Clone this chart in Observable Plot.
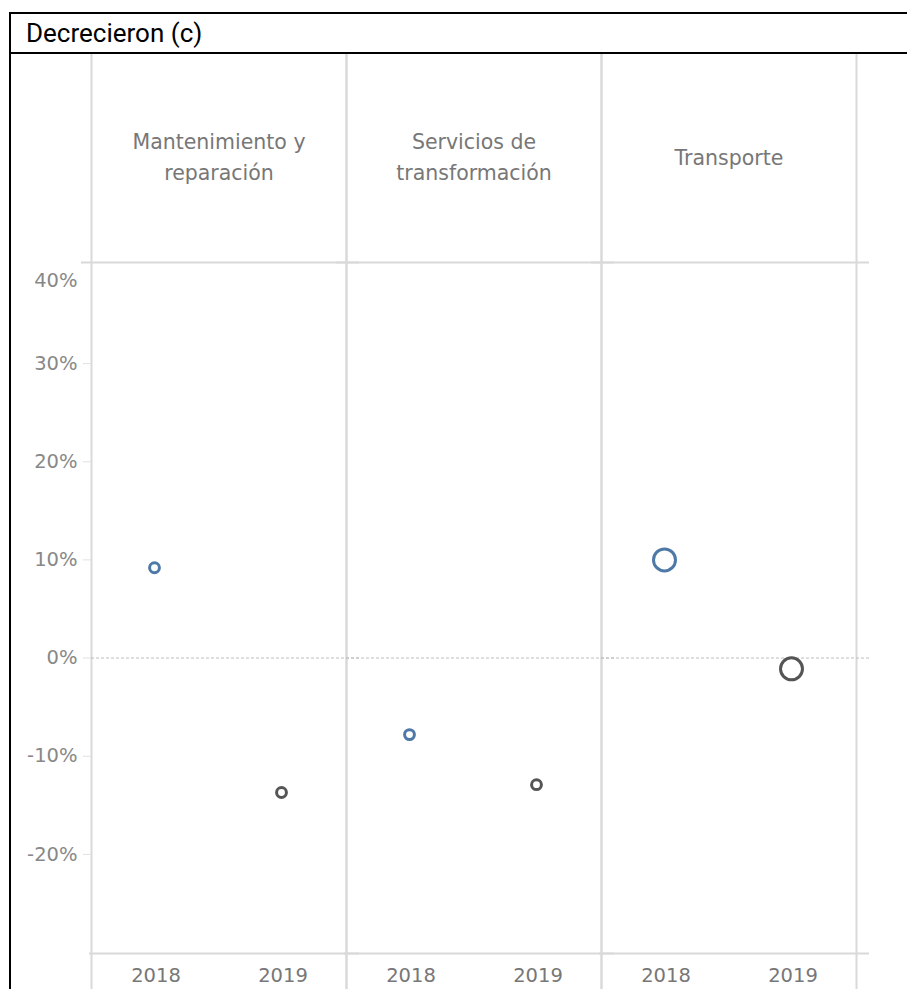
<!DOCTYPE html>
<html>
<head>
<meta charset="utf-8">
<script src="https://cdn.jsdelivr.net/npm/d3@7"></script>
<script src="https://cdn.jsdelivr.net/npm/@observablehq/plot@0.6"></script>
<style>
  html, body { margin: 0; padding: 0; background: #fff; }
  #page { position: relative; width: 907px; height: 989px; overflow: hidden; }
  #leftborder { position: absolute; left: 9px; top: 12px; width: 2px; height: 977px; background: #000; }
  #title {
    position: absolute; left: 9px; top: 12px; width: 898px; height: 38px;
    border-top: 2px solid #000; border-bottom: 2px solid #000;
    font-family: "Roboto", sans-serif; font-size: 26px; color: #000;
    line-height: 38px; box-sizing: content-box;
  }
  #title span { position: absolute; left: 17px; top: 0; }
  #chart { position: absolute; left: 0; top: 54px; }
</style>
</head>
<body>
<div id="page">
  <div id="title"><span>Decrecieron (c)</span></div>
  <div id="chart"></div>
  <div id="leftborder"></div>
</div>
<script>
// ---- data ----
const categorias = ["Mantenimiento y reparación", "Servicios de transformación", "Transporte"];
const etiquetas = ["Mantenimiento y\nreparación", "Servicios de\ntransformación", "Transporte"];
const anios = ["2018", "2019"];
const valores2018 = [0.092, -0.078, 0.100];
const valores2019 = [-0.137, -0.129, -0.011];
const peso = [1, 1, 5];
const ticksY = [-0.2, -0.1, 0, 0.1, 0.2, 0.3];
const tickTop = [0.4];
const dominioY = [-0.301, 0.403];
const colores = ["#4e79a7", "#555555"];

const datos = [];
categorias.forEach((c, i) => {
  datos.push({categoria: c, anio: anios[0], valor: valores2018[i], peso: peso[i]});
  datos.push({categoria: c, anio: anios[1], valor: valores2019[i], peso: peso[i]});
});

const fmt = d => Math.round(d * 100) + "%";
const font = "DejaVu Sans, sans-serif";

const plot = Plot.plot({
  width: 907,
  height: 935,
  marginTop: 208,
  marginBottom: 36,
  marginLeft: 90,
  marginRight: 51,
  style: {fontFamily: font, background: "white"},
  fx: {domain: categorias, padding: 0, axis: null},
  x: {type: "band", domain: anios, padding: 0},
  y: {domain: dominioY},
  r: {domain: [0, 5], range: [0, 11]},
  color: {domain: anios, range: colores},
  marks: [
    Plot.frame({stroke: "#d9d9d9", strokeWidth: 2, insetTop: -230, insetBottom: -60}),
    Plot.ruleY([dominioY[1]], {stroke: "#d9d9d9", strokeWidth: 2, insetLeft: -10, insetRight: -13}),
    Plot.ruleY([dominioY[0]], {stroke: "#d9d9d9", strokeWidth: 2, insetLeft: -2, insetRight: -13}),
    Plot.ruleY([0], {stroke: "#bdbdbd", strokeWidth: 1, strokeDasharray: "3,2", insetRight: -13}),
    Plot.axisY(ticksY, {anchor: "left", tickSize: 8, tickPadding: 6, stroke: "#e0e0e0", fill: "#888", fontSize: 19.5, tickFormat: fmt, label: null}),
    Plot.axisY(tickTop, {anchor: "left", tickSize: 0, tickPadding: 14, dy: 15, fill: "#888", fontSize: 19.5, tickFormat: fmt, label: null}),
    Plot.axisX({anchor: "bottom", tickSize: 0, tickPadding: 15, fill: "#777", fontSize: 19.5, label: null}),
    Plot.text(categorias, {fx: d => d, text: (d, i) => etiquetas[i], frameAnchor: "top", lineAnchor: "middle", dy: -107.5, lineHeight: 1.51, fontSize: 20.5, fill: "#777"}),
    Plot.dot(datos, {fx: "categoria", x: "anio", y: "valor", r: "peso", stroke: "anio", fill: "white", strokeWidth: 3, dx: -1.5})
  ]
});
document.getElementById("chart").appendChild(plot);
</script>
</body>
</html>
